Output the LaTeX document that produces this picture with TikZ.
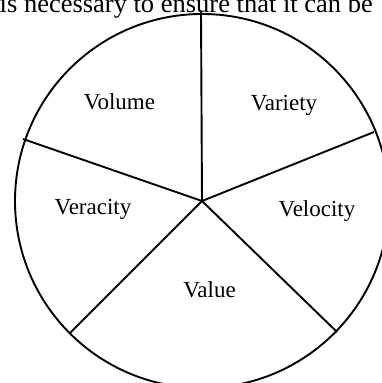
\documentclass[tikz,border=0pt]{standalone}
\usepackage{fontspec}
\setmainfont{Liberation Serif}
\begin{document}
\begin{tikzpicture}[x=1pt,y=1pt,
  spoke/.style={line width=1.9pt},
  lbl/.style={font=\fontsize{23}{27}\selectfont, inner sep=0pt, anchor=base},
  toptext/.style={font=\fontsize{26.5}{30}\selectfont, inner sep=0pt, anchor=base west}]
\useasboundingbox (0,0) rectangle (381,383);
\coordinate (c) at (202,182);
\draw[spoke] (c) circle[radius=187];
\coordinate (s1) at (201,372);
\coordinate (s2) at (374,251);
\coordinate (s3) at (337,51);
\coordinate (s4) at (70,50);
\coordinate (s5) at (23,244);
\draw[spoke] (c) -- (s1);
\draw[spoke] (c) -- (s2);
\draw[spoke] (c) -- (s3);
\draw[spoke] (c) -- (s4);
\draw[spoke] (c) -- (s5);
\node[lbl] (volume) at (119.5,273.7) {Volume};
\node[lbl] (variety) at (284,272) {Variety};
\node[lbl] (veracity) at (93,168) {Veracity};
\node[lbl] (velocity) at (317,166.3) {Velocity};
\node[lbl] (value) at (209.5,85.3) {Value};
\node[toptext] (top) at (-0.5,370) {is necessary to ensure that it can be};
\end{tikzpicture}
\end{document}
